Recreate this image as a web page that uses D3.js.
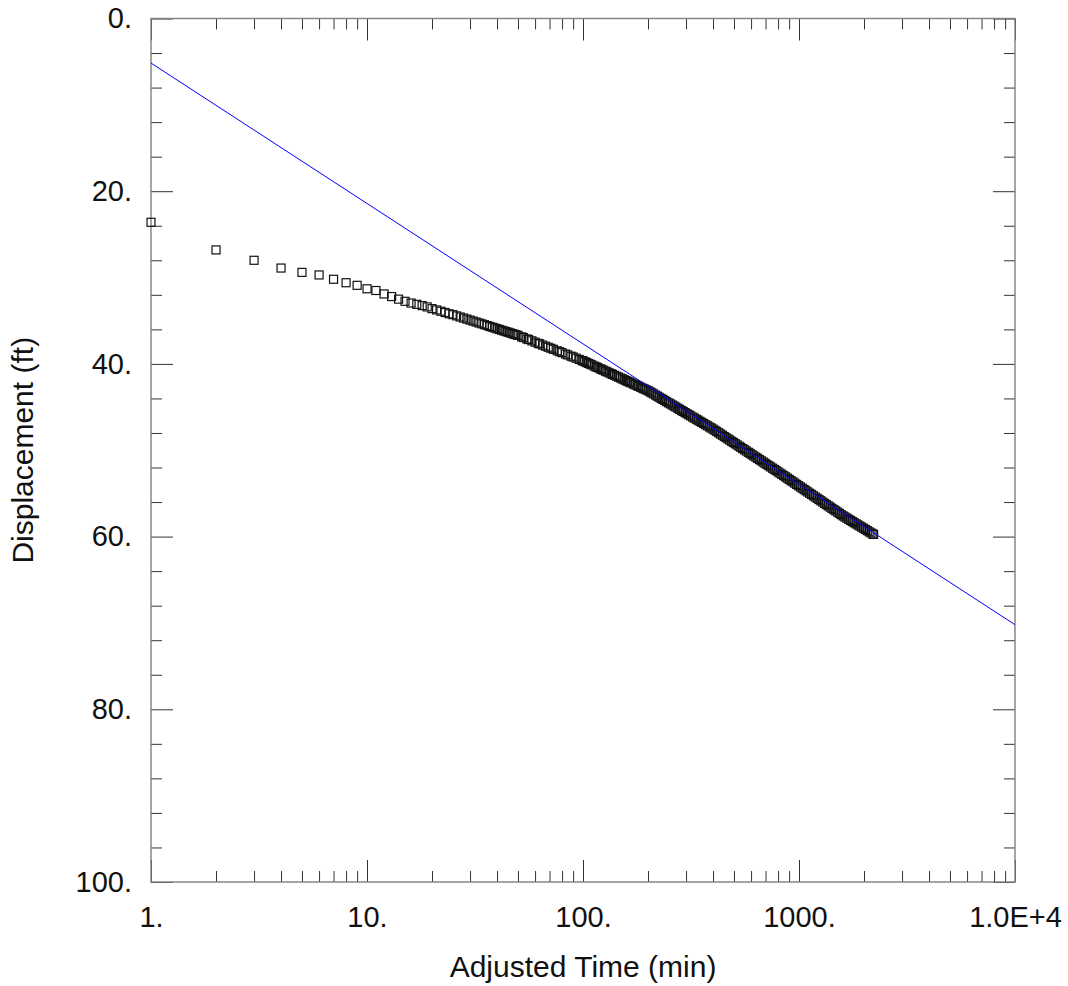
<!DOCTYPE html>
<html>
<head>
<meta charset="utf-8">
<script src="https://cdn.jsdelivr.net/npm/d3@7"></script>
<style>
  body { margin: 0; background: #fff; }
  text { font-family: "Liberation Sans", Arial, sans-serif; fill: #111; }
</style>
</head>
<body>
<div id="chart"></div>
<script>
const times = [1, 2, 3, 4, 5, 6, 7, 8, 9, 10, 11, 12, 13, 14, 15, 16, 17, 18, 19, 20,
  21, 22, 23, 24, 25, 26, 27, 28, 29, 30, 31, 32, 33, 34, 35, 36, 37, 38, 39, 40,
  41, 42, 43, 44, 45, 46, 47, 48, 49, 50, 52, 53, 55, 56, 58, 60, 62, 63, 65, 67,
  69, 71, 73, 76, 78, 80, 83, 85, 88, 90, 93, 96, 99,
  100, 102, 104, 106, 108, 110, 113, 115, 117, 120, 122, 124, 127, 129, 132, 135, 137, 140, 143, 146,
  149, 152, 155, 158, 161, 164, 167, 171, 174, 178, 181, 185, 189, 192, 196, 200, 204, 208, 212, 217,
  221, 225, 230, 234, 239, 244, 249, 254, 259, 264, 269, 275, 280, 286, 291, 297, 303, 309, 315, 322,
  328, 335, 341, 348, 355, 362, 370, 377, 385, 392, 400, 408, 416, 425, 433, 442, 451, 460, 469, 478,
  488, 497, 507, 517, 528, 538, 549, 560, 571, 583, 594, 606, 618, 631, 643, 656, 669, 683, 696, 710,
  725, 739, 754, 769, 784, 800, 816, 832, 849, 866, 883, 901, 919, 937, 956, 975, 995, 1015, 1035, 1056,
  1077, 1098, 1120, 1143, 1166, 1189, 1213, 1237, 1262, 1287, 1313, 1339, 1366, 1393, 1421, 1450, 1479, 1508, 1538, 1569,
  1600, 1632, 1665, 1699, 1733, 1767, 1802, 1838, 1875, 1913, 1951, 1990, 2030, 2071, 2112, 2154, 2197, 2215];
const displacement = [23.6, 26.8, 28.0, 28.9, 29.4, 29.7, 30.2, 30.6, 30.9, 31.3, 31.5, 31.9, 32.2, 32.5, 32.75, 32.95, 33.1, 33.25, 33.4, 33.6,
  33.75, 33.9, 34.05, 34.2, 34.3, 34.44, 34.57, 34.69, 34.81, 34.93, 35.04, 35.15, 35.26, 35.36, 35.46, 35.56, 35.66, 35.75, 35.84, 35.93,
  36.01, 36.1, 36.18, 36.26, 36.33, 36.41, 36.49, 36.56, 36.63, 36.7, 36.87, 36.95, 37.11, 37.18, 37.33, 37.48, 37.62, 37.68, 37.82, 37.95,
  38.07, 38.19, 38.31, 38.48, 38.59, 38.7, 38.86, 38.96, 39.11, 39.2, 39.34, 39.48, 39.61,
  39.65, 39.75, 39.85, 39.94, 40.03, 40.12, 40.26, 40.35, 40.43, 40.56, 40.64, 40.72, 40.84, 40.92, 41.03, 41.14, 41.22, 41.32, 41.43, 41.53,
  41.63, 41.73, 41.83, 41.93, 42.02, 42.11, 42.2, 42.32, 42.41, 42.52, 42.6, 42.71, 42.82, 42.9, 43.0, 43.1, 43.23, 43.35, 43.47, 43.62,
  43.74, 43.86, 44.0, 44.11, 44.24, 44.38, 44.51, 44.63, 44.76, 44.88, 45.0, 45.14, 45.26, 45.4, 45.51, 45.64, 45.77, 45.89, 46.02, 46.16,
  46.28, 46.41, 46.52, 46.66, 46.78, 46.91, 47.05, 47.17, 47.3, 47.42, 47.55, 47.69, 47.83, 47.98, 48.12, 48.26, 48.41, 48.55, 48.69, 48.82,
  48.97, 49.1, 49.24, 49.38, 49.53, 49.67, 49.81, 49.95, 50.09, 50.24, 50.37, 50.52, 50.66, 50.8, 50.94, 51.08, 51.22, 51.37, 51.5, 51.65,
  51.8, 51.93, 52.08, 52.22, 52.35, 52.5, 52.65, 52.79, 52.94, 53.08, 53.23, 53.37, 53.52, 53.66, 53.81, 53.96, 54.1, 54.25, 54.39, 54.54,
  54.69, 54.83, 54.98, 55.12, 55.27, 55.42, 55.56, 55.71, 55.85, 56.0, 56.15, 56.29, 56.44, 56.58, 56.73, 56.88, 57.02, 57.16, 57.31, 57.46,
  57.6, 57.73, 57.86, 58.0, 58.13, 58.26, 58.39, 58.52, 58.65, 58.78, 58.91, 59.04, 59.17, 59.31, 59.44, 59.57, 59.7, 59.75];

// Straight-line fit (end points)
const fitTimes = [1, 10000];
const fitValues = [5.16, 70.2];

// Axis ticks
const xMajor = [1, 10, 100, 1000, 10000];
const xLabels = ["1.", "10.", "100.", "1000.", "1.0E+4"];
const yMajor = [0, 20, 40, 60, 80, 100];
const yLabels = ["0.", "20.", "40.", "60.", "80.", "100."];

const xMinor = [];
for (let dec = 1; dec < 10000; dec *= 10) {
    for (let k = 2; k <= 9; k++) xMinor.push(dec * k);
}
const yMinor = d3.range(0, 101, 4).filter(v => v % 20 !== 0);

const W = 1068, H = 986;
const plotL = 151, plotR = 1015, plotT = 18.5, plotB = 882;

const svg = d3.select("#chart").append("svg")
    .attr("width", W)
    .attr("height", H);

const x = d3.scaleLog().domain([1, 10000]).range([plotL, plotR]);
const y = d3.scaleLinear().domain([0, 100]).range([plotT, plotB]);

svg.append("clipPath").attr("id", "plot-clip")
    .append("rect")
    .attr("x", plotL).attr("y", plotT)
    .attr("width", plotR - plotL).attr("height", plotB - plotT);

// tick helper: inward ticks, no domain line
function drawAxis(axis, tx, ty) {
    const g = svg.append("g")
        .attr("transform", `translate(${tx},${ty})`)
        .call(axis);
    g.select(".domain").remove();
    g.selectAll(".tick line").attr("stroke", "#333").attr("stroke-width", 1);
    g.selectAll(".tick text").style("font-size", "29px");
    return g;
}

// bottom
drawAxis(d3.axisBottom(x).tickValues(xMajor).tickSize(-22).tickPadding(24)
    .tickFormat((d, i) => xLabels[i]), 0, plotB);
drawAxis(d3.axisBottom(x).tickValues(xMinor).tickSize(-11).tickFormat(""), 0, plotB);
// top
drawAxis(d3.axisTop(x).tickValues(xMajor).tickSize(-22).tickFormat(""), 0, plotT);
drawAxis(d3.axisTop(x).tickValues(xMinor).tickSize(-11).tickFormat(""), 0, plotT);
// left
drawAxis(d3.axisLeft(y).tickValues(yMajor).tickSize(-22).tickPadding(19)
    .tickFormat((d, i) => yLabels[i]), plotL, 0);
drawAxis(d3.axisLeft(y).tickValues(yMinor).tickSize(-11).tickFormat(""), plotL, 0);
// right
drawAxis(d3.axisRight(y).tickValues(yMajor).tickSize(-22).tickFormat(""), plotR, 0);
drawAxis(d3.axisRight(y).tickValues(yMinor).tickSize(-11).tickFormat(""), plotR, 0);

// frame
svg.append("rect")
    .attr("x", plotL).attr("y", plotT)
    .attr("width", plotR - plotL).attr("height", plotB - plotT)
    .attr("fill", "none")
    .attr("stroke", "#808080")
    .attr("stroke-width", 1.4);

// data squares
const pts = times.map((t, i) => ({t: t, d: displacement[i]}));
const sq = 8;
svg.append("g")
    .selectAll("rect")
    .data(pts)
    .enter().append("rect")
    .attr("x", d => x(d.t) - sq / 2)
    .attr("y", d => y(d.d) - sq / 2)
    .attr("width", sq)
    .attr("height", sq)
    .attr("fill", "none")
    .attr("stroke", "#111")
    .attr("stroke-width", 1.2);

// fit line
const fit = fitTimes.map((t, i) => ({t: t, d: fitValues[i]}));
svg.append("path")
    .datum(fit)
    .attr("clip-path", "url(#plot-clip)")
    .attr("fill", "none")
    .attr("stroke", "#0000ff")
    .attr("stroke-width", 1)
    .attr("d", d3.line().x(d => x(d.t)).y(d => y(d.d)));

// axis titles
svg.append("text")
    .attr("x", (plotL + plotR) / 2)
    .attr("y", 977)
    .attr("text-anchor", "middle")
    .style("font-size", "30px")
    .text("Adjusted Time (min)");

svg.append("text")
    .attr("transform", `translate(33,${(plotT + plotB) / 2}) rotate(-90)`)
    .attr("text-anchor", "middle")
    .style("font-size", "30px")
    .text("Displacement (ft)");
</script>
</body>
</html>
